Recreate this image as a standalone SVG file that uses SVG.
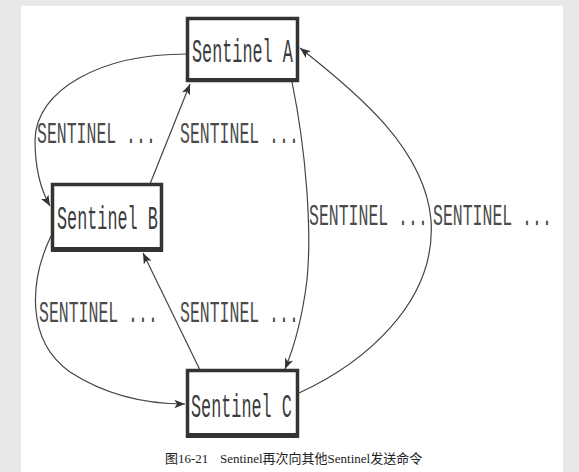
<svg xmlns="http://www.w3.org/2000/svg" width="579" height="472" viewBox="0 0 579 472">
<defs>
<style>
.node rect{fill:#fff;stroke:#333;stroke-width:3.5}
.node .bot{fill:#333;stroke:none}
.nt{font-family:"Liberation Mono","DejaVu Sans Mono",monospace;font-size:16.8px;fill:#3c3c3c}
.lbl{font-family:"Liberation Mono","DejaVu Sans Mono",monospace;font-size:16.5px;fill:#4a4a4a}
.edge{fill:none;stroke:#444;stroke-width:1.2;marker-end:url(#arr)}
.cap{font-family:"Liberation Serif","Noto Sans CJK SC",serif;font-size:13px;fill:#222}
</style>
<marker id="arr" viewBox="0 0 10 8" refX="10" refY="4" markerWidth="11" markerHeight="8.5" markerUnits="userSpaceOnUse" orient="auto">
<path d="M0,0 L10,4 L0,8 L2.5,4 Z" fill="#333"/>
</marker>
</defs>
<rect x="0" y="0" width="579" height="472" fill="#e9e9e9"/>
<rect x="21" y="6" width="542" height="466" fill="#fff"/>
<g id="connectors">
<path class="edge" d="M187,54 C100,54 36,90 35,140 C35,170 42,192 50,206"/>
<path class="edge" d="M150,184 L190,84"/>
<path class="edge" d="M292,82 C306,150 312,230 307,280 C302,320 295,345 285,369"/>
<path class="edge" d="M299,393 C360,365 437,305 431,220 C425,150 360,95 300,48"/>
<path class="edge" d="M51,236 C30,280 25,340 70,372 C110,398 150,404 185,404"/>
<path class="edge" d="M200,370 L143,253"/>
</g>
<g id="labels">
<text class="lbl" transform="translate(37,143) scale(1,1.76)">SENTINEL ...</text>
<text class="lbl" transform="translate(180,143) scale(1,1.76)">SENTINEL ...</text>
<text class="lbl" transform="translate(309,225) scale(1,1.76)">SENTINEL ...</text>
<text class="lbl" transform="translate(433,225) scale(1,1.76)">SENTINEL ...</text>
<text class="lbl" transform="translate(39,322) scale(1,1.76)">SENTINEL ...</text>
<text class="lbl" transform="translate(180,322) scale(1,1.76)">SENTINEL ...</text>
</g>
<g id="nodeA" class="node">
<rect x="187.5" y="18.5" width="110" height="62"/>
<rect class="bot" x="186" y="78" width="113" height="4"/>
<text class="nt" transform="translate(192,62) scale(1,2.02)">Sentinel A</text>
</g>
<g id="nodeB" class="node">
<rect x="52.5" y="184.5" width="109" height="65"/>
<rect class="bot" x="51" y="247" width="112" height="5"/>
<text class="nt" transform="translate(57,229) scale(1,2.02)">Sentinel B</text>
</g>
<g id="nodeC" class="node">
<rect x="187.5" y="370.5" width="110" height="65"/>
<rect class="bot" x="186" y="433" width="113" height="5"/>
<text class="nt" transform="translate(191,417) scale(1,2.02)">Sentinel C</text>
</g>
<text class="cap" x="165" y="463">图16-21<tspan x="220">Sentinel再次向其他Sentinel发送命令</tspan></text>
</svg>
